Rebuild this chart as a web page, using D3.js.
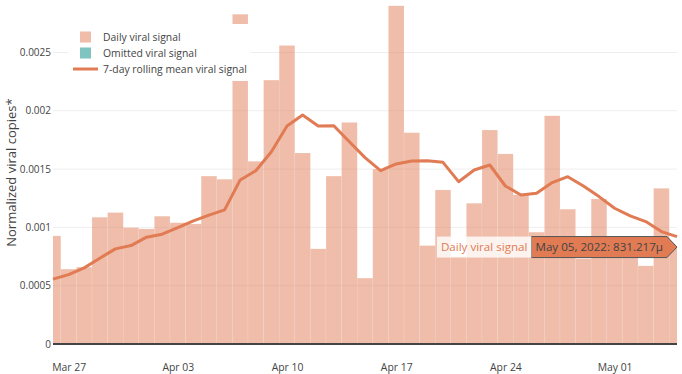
<!DOCTYPE html>
<html>
<head>
<meta charset="utf-8">
<script src="https://cdn.jsdelivr.net/npm/d3@7"></script>
<style>
  body { margin: 0; background: #fff; }
  svg { font-family: "Open Sans", sans-serif; }
</style>
</head>
<body>
<div id="chart"></div>
<script>
// daily values, Mar 26 .. May 05 2022
var startDate = "2022-03-26"
var daily = [0.000927, 0.000642, 0.000659, 0.001087, 0.001127, 0.000998, 0.000987, 0.001096, 0.00104, 0.00103,
  0.00144, 0.001413, 0.002828, 0.001567, 0.002263, 0.00256, 0.001638, 0.000816, 0.00144, 0.0019,
  0.000565, 0.0015, 0.0029, 0.001812, 0.000844, 0.001321, 0.00075, 0.001207, 0.001835, 0.00163,
  0.00128, 0.000959, 0.001957, 0.001156, 0.000732, 0.001244, 0.00088, 0.00082, 0.00067, 0.001335,
  0.000831217]
var rolling = [0.000556, 0.000595, 0.000653, 0.000736, 0.000816, 0.000844, 0.000916, 0.000942, 0.000998, 0.001056,
  0.001105, 0.00115, 0.001407, 0.001486, 0.001649, 0.001869, 0.001963, 0.001869, 0.001872, 0.001735,
  0.001598, 0.001486, 0.001544, 0.001569, 0.001572, 0.001558, 0.001392, 0.001492, 0.001535, 0.001355,
  0.001278, 0.001293, 0.001384, 0.001435, 0.001355, 0.001264, 0.001164, 0.001098, 0.00105, 0.000964,
  0.000921]
var yTicks = [0, 0.0005, 0.001, 0.0015, 0.002, 0.0025]
var xTicks = ["2022-03-27", "2022-04-03", "2022-04-10", "2022-04-17", "2022-04-24", "2022-05-01"]
var legendItems = ["Daily viral signal", "Omitted viral signal", "7-day rolling mean viral signal"]
var hoverIndex = 40

var lineColor = "#e07b53", omitColor = "#7fc4c0", textColor = "#444"

var width = 682, height = 374
var margin = {top: 0, right: 5, bottom: 30, left: 53}

var parse = d3.utcParse("%Y-%m-%d")
var t0 = parse(startDate)
var dates = daily.map(function(d, i) { return d3.utcDay.offset(t0, i) })
var data = dates.map(function(d, i) { return {date: d, value: daily[i], mean: rolling[i]} })

var svg = d3.select("#chart").append("svg")
  .attr("width", width)
  .attr("height", height)

var x = d3.scaleUtc()
  .domain([t0, dates[dates.length - 1]])
  .range([margin.left, width - margin.right])

var y = d3.scaleLinear()
  .domain([0, 0.00295])
  .range([height - margin.bottom, margin.top])

svg.append("clipPath").attr("id", "clip")
  .append("rect")
  .attr("x", margin.left).attr("y", 0)
  .attr("width", width - margin.right - margin.left)
  .attr("height", height - margin.bottom)

// gridlines
svg.append("g")
  .selectAll("line")
  .data(yTicks.slice(1))
  .enter().append("line")
  .attr("x1", margin.left).attr("x2", width - margin.right)
  .attr("y1", function(d) { return y(d) }).attr("y2", function(d) { return y(d) })
  .attr("stroke", "#eee").attr("stroke-width", 1)

// y axis labels
var yAxis = svg.append("g")
  .attr("transform", "translate(" + (margin.left - 1) + ",0)")
  .call(d3.axisLeft(y).tickValues(yTicks).tickSize(0).tickPadding(1).tickFormat(function(d) { return d === 0 ? "0" : d3.format("")(d) }))
yAxis.select(".domain").remove()
yAxis.selectAll("text").attr("fill", textColor).style("font-size", "10px").style("font-family", "Open Sans")

svg.append("text")
  .attr("transform", "translate(16," + y(0.00147) + ") rotate(-90)")
  .attr("text-anchor", "middle")
  .attr("fill", textColor)
  .style("font-size", "13px")
  .text("Normalized viral copies*")

// daily bars
var half = 12 * 3600 * 1000
svg.append("g")
  .attr("clip-path", "url(#clip)")
  .selectAll("rect")
  .data(data)
  .enter().append("rect")
  .attr("x", function(d) { return x(new Date(+d.date - half)) })
  .attr("width", function(d) { return x(new Date(+d.date + half)) - x(new Date(+d.date - half)) })
  .attr("y", function(d) { return y(d.value) })
  .attr("height", function(d) { return y(0) - y(d.value) })
  .attr("fill", lineColor)
  .attr("fill-opacity", 0.5)
  .attr("stroke", "#fff")
  .attr("stroke-opacity", 0.25)
  .attr("stroke-width", 0.5)

// zero line
svg.append("line")
  .attr("x1", margin.left).attr("x2", width - margin.right)
  .attr("y1", y(0)).attr("y2", y(0))
  .attr("stroke", textColor).attr("stroke-width", 2)

// rolling mean
var line = d3.line()
  .x(function(d) { return x(d.date) })
  .y(function(d) { return y(d.mean) })
svg.append("path")
  .datum(data)
  .attr("d", line)
  .attr("fill", "none")
  .attr("stroke", lineColor)
  .attr("stroke-width", 3)
  .attr("stroke-linejoin", "round")

// x axis
var xAxis = svg.append("g")
  .attr("transform", "translate(0," + (y(0) + 17) + ")")
  .call(d3.axisBottom(x).tickValues(xTicks.map(parse)).tickSize(0).tickFormat(d3.utcFormat("%b %d")))
xAxis.select(".domain").remove()
xAxis.selectAll("text").attr("fill", textColor).style("font-size", "10.4px").style("font-family", "Open Sans")

// legend
var legend = svg.append("g")
legend.append("rect")
  .attr("x", 68).attr("y", 24).attr("width", 182).attr("height", 57)
  .attr("fill", "#fff")
var lg = legend.selectAll("g.item")
  .data(legendItems)
  .enter().append("g")
  .attr("transform", function(d, i) { return "translate(0," + (37 + i * 16) + ")" })
lg.filter(function(d, i) { return i < 2 })
  .append("rect")
  .attr("x", 80).attr("y", -5.5).attr("width", 11).attr("height", 11)
  .attr("fill", function(d, i) { return i === 0 ? lineColor : omitColor })
  .attr("fill-opacity", function(d, i) { return i === 0 ? 0.5 : 1 })
lg.filter(function(d, i) { return i === 2 })
  .append("line")
  .attr("x1", 73).attr("x2", 98).attr("y1", 0).attr("y2", 0)
  .attr("stroke", lineColor).attr("stroke-width", 3)
lg.append("text")
  .attr("x", 103).attr("y", 4)
  .attr("fill", textColor)
  .style("font-size", "10.4px")
  .text(function(d) { return d })

// hover label for last point
var hd = data[hoverIndex]
var hx = x(hd.date), hy = y(hd.value)
var tip = svg.append("g")
var tipText = tip.append("text")
  .attr("fill", textColor)
  .style("font-size", "11.6px")
  .attr("y", hy + 4)
  .text(d3.utcFormat("%b %d, %Y")(hd.date) + ": " + d3.format(".6~s")(hd.value))
var tw = tipText.node().getComputedTextLength()
var boxR = hx - 10, boxL = boxR - tw - 8
tipText.attr("x", boxL + 4)
tip.insert("path", "text")
  .attr("d", "M" + boxL + "," + (hy - 10.5) + "H" + boxR + "L" + hx + "," + hy + "L" + boxR + "," + (hy + 10.5) + "H" + boxL + "Z")
  .attr("fill", lineColor)
  .attr("stroke", "#555")
  .attr("stroke-width", 1)
var nameText = tip.append("text")
  .attr("fill", lineColor)
  .style("font-size", "11.6px")
  .attr("text-anchor", "end")
  .attr("x", boxL - 4)
  .attr("y", hy + 4)
  .text("Daily viral signal")
var nw = nameText.node().getComputedTextLength()
tip.insert("rect", "text")
  .attr("x", boxL - nw - 8).attr("y", hy - 10.5)
  .attr("width", nw + 8).attr("height", 21)
  .attr("fill", "#fff").attr("fill-opacity", 0.8)
</script>
</body>
</html>
